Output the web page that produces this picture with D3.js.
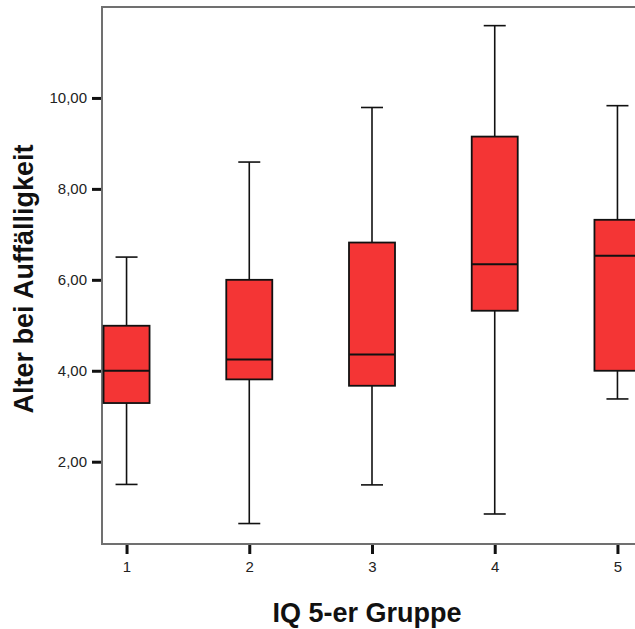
<!DOCTYPE html>
<html>
<head>
<meta charset="utf-8">
<script src="https://cdn.jsdelivr.net/npm/d3@7/dist/d3.min.js"></script>
<style>
  html, body { margin: 0; padding: 0; background: #fff; }
  svg { display: block; }
</style>
</head>
<body>
<svg id="chart" width="635" height="629"></svg>
<script>
// IQ groups and box-plot statistics of age at first notice
const groups = [1, 2, 3, 4, 5];
const whiskerLow  = [1.50, 0.64, 1.49, 0.85, 3.38];
const quartile1   = [3.29, 3.81, 3.67, 5.32, 4.00];
const medians     = [4.00, 4.25, 4.36, 6.34, 6.53];
const quartile3   = [4.99, 6.00, 6.82, 9.15, 7.32];
const whiskerHigh = [6.50, 8.59, 9.79, 11.59, 9.83];
const yTicks = [2, 4, 6, 8, 10];
const xTitle = "IQ 5-er Gruppe";
const yTitle = "Alter bei Auffälligkeit";

const svg = d3.select("#chart");
const plot = { left: 102, right: 642, top: 7, bottom: 544 };

const x = d3.scaleLinear().domain([0.8, 5.2]).range([plot.left, plot.right]);
const y = d3.scaleLinear().domain([0.19, 12.0]).range([plot.bottom, plot.top]);

const boxW = 46, capW = 22;
const fmt = v => d3.format(".2f")(v).replace(".", ",");

const rows = groups.map((g, i) => ({
  g, lo: whiskerLow[i], q1: quartile1[i], med: medians[i], q3: quartile3[i], hi: whiskerHigh[i]
}));

// plot frame
svg.append("rect")
  .attr("x", plot.left).attr("y", plot.top)
  .attr("width", plot.right - plot.left).attr("height", plot.bottom - plot.top)
  .attr("fill", "none").attr("stroke", "#707070").attr("stroke-width", 2);

// boxes
const box = svg.append("g").selectAll("g").data(rows).join("g");

box.append("line")
  .attr("x1", d => x(d.g)).attr("x2", d => x(d.g))
  .attr("y1", d => y(d.hi)).attr("y2", d => y(d.q3))
  .attr("stroke", "#111").attr("stroke-width", 1.6);
box.append("line")
  .attr("x1", d => x(d.g)).attr("x2", d => x(d.g))
  .attr("y1", d => y(d.q1)).attr("y2", d => y(d.lo))
  .attr("stroke", "#111").attr("stroke-width", 1.6);
box.append("line")
  .attr("x1", d => x(d.g) - capW / 2).attr("x2", d => x(d.g) + capW / 2)
  .attr("y1", d => y(d.hi)).attr("y2", d => y(d.hi))
  .attr("stroke", "#111").attr("stroke-width", 1.6);
box.append("line")
  .attr("x1", d => x(d.g) - capW / 2).attr("x2", d => x(d.g) + capW / 2)
  .attr("y1", d => y(d.lo)).attr("y2", d => y(d.lo))
  .attr("stroke", "#111").attr("stroke-width", 1.6);

box.append("rect")
  .attr("x", d => x(d.g) - boxW / 2).attr("width", boxW)
  .attr("y", d => y(d.q3)).attr("height", d => y(d.q1) - y(d.q3))
  .attr("fill", "#f43535").attr("stroke", "#111").attr("stroke-width", 1.8);
box.append("line")
  .attr("x1", d => x(d.g) - boxW / 2).attr("x2", d => x(d.g) + boxW / 2)
  .attr("y1", d => y(d.med)).attr("y2", d => y(d.med))
  .attr("stroke", "#111").attr("stroke-width", 2);

// axes
const yAxis = svg.append("g")
  .attr("transform", `translate(${plot.left - 1},0)`)
  .call(d3.axisLeft(y).tickValues(yTicks).tickFormat(fmt).tickSize(9).tickPadding(5));
const xAxis = svg.append("g")
  .attr("transform", `translate(0,${plot.bottom + 1})`)
  .call(d3.axisBottom(x).tickValues(groups).tickFormat(d3.format("d")).tickSize(9).tickPadding(7));

[yAxis, xAxis].forEach(a => {
  a.select(".domain").remove();
  a.selectAll(".tick line").attr("stroke", "#111").attr("stroke-width", 3);
  a.selectAll(".tick text")
    .attr("fill", "#222")
    .style("font-family", "'Liberation Sans', Arial, sans-serif")
    .style("font-size", "15px");
});

// axis titles
svg.append("text")
  .attr("x", 367).attr("y", 622)
  .attr("text-anchor", "middle")
  .style("font-family", "'Liberation Sans', Arial, sans-serif")
  .style("font-weight", "bold").style("font-size", "27px")
  .attr("fill", "#111")
  .text(xTitle);

svg.append("text")
  .attr("transform", "translate(33,279) rotate(-90)")
  .attr("text-anchor", "middle")
  .style("font-family", "'Liberation Sans', Arial, sans-serif")
  .style("font-weight", "bold").style("font-size", "27px")
  .attr("fill", "#111")
  .text(yTitle);
</script>
</body>
</html>
